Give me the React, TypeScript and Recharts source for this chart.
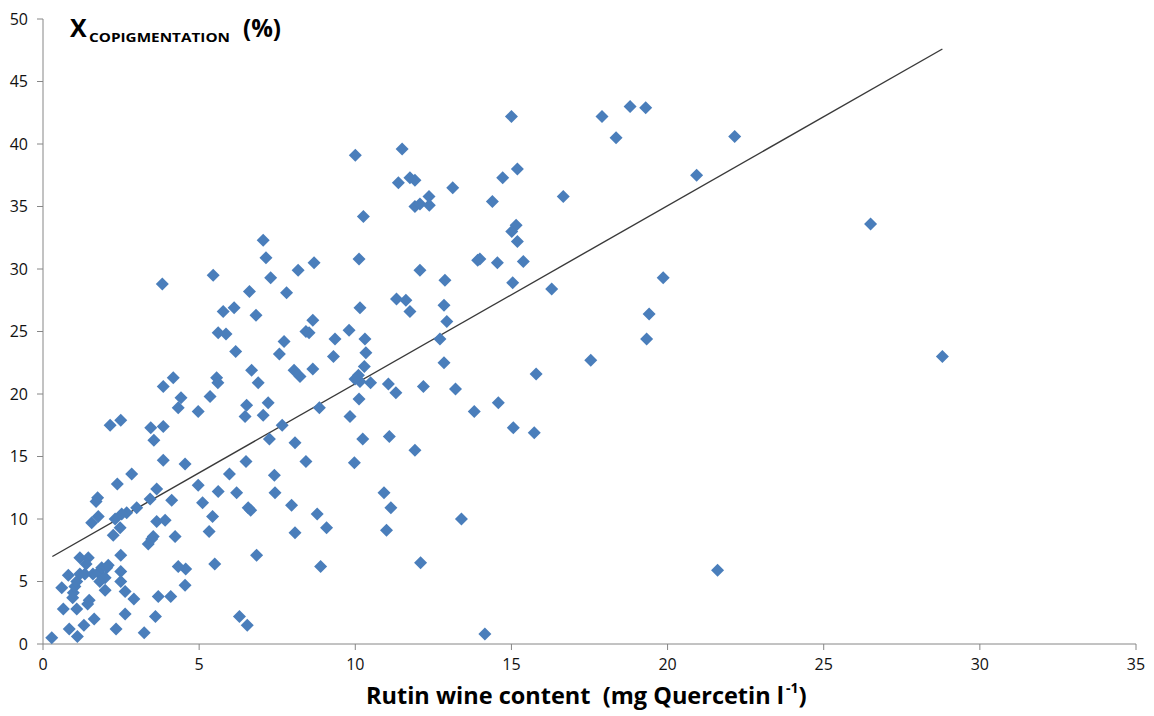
import { ReferenceLine, Scatter, ScatterChart, XAxis, YAxis } from "recharts";

// Rutin wine content (mg Quercetin l-1)
const rutin = [
	0.28, 1.1, 0.84, 1.31, 1.64, 0.65, 1.08, 1.43, 1.48, 0.95,
	0.97, 0.6, 1.02, 1.08, 0.81, 1.18, 1.34, 1.6, 1.77, 1.88,
	2.04, 2.09, 1.99, 1.99, 1.82, 1.45, 1.18, 1.38, 2.34, 2.63,
	2.91, 2.63, 2.49, 2.49, 2.49, 3.24, 3.6, 3.69, 4.09, 4.55,
	4.57, 4.33, 5.5, 6.29, 6.54, 6.84, 8.89, 3.37, 3.48, 3.53,
	4.23, 2.25, 2.47, 2.31, 2.68, 2.52, 3.0, 1.56, 1.77, 1.7,
	1.75, 2.38, 2.84, 3.43, 3.64, 3.85, 3.55, 3.45, 3.85, 2.15,
	2.49, 4.12, 3.64, 3.91, 4.55, 4.33, 4.97, 4.97, 5.11, 5.61,
	5.43, 5.32, 5.97, 6.2, 6.5, 6.57, 6.65, 6.52, 6.47, 7.05,
	7.25, 7.41, 7.43, 7.66, 8.07, 8.42, 7.96, 8.07, 8.78, 9.08,
	8.85, 7.21, 3.82, 5.45, 7.14, 7.29, 8.17, 8.68, 6.61, 7.8,
	5.77, 6.12, 6.82, 8.64, 5.61, 5.86, 8.42, 8.52, 7.72, 6.17,
	7.57, 6.68, 6.89, 8.04, 8.23, 8.64, 5.56, 5.6, 4.17, 3.85,
	4.42, 5.35, 7.05, 10.12, 12.07, 12.87, 13.92, 10.15, 11.32, 11.62,
	11.75, 12.84, 12.93, 9.8, 9.35, 10.31, 10.34, 9.3, 10.29, 10.1,
	10.15, 9.99, 10.49, 11.06, 11.3, 12.18, 13.21, 12.71, 12.84, 13.81,
	10.12, 9.83, 10.24, 11.09, 11.91, 9.97, 15.0, 17.9, 10.0, 11.5,
	11.38, 11.75, 11.91, 12.36, 11.91, 12.07, 12.37, 13.12, 14.72, 15.19,
	14.39, 16.66, 10.26, 15.15, 15.01, 15.19, 13.99, 14.55, 15.38, 15.04,
	16.29, 15.79, 17.54, 14.58, 15.06, 15.73, 10.92, 11.14, 11.0, 13.4,
	12.09, 14.15, 18.8, 19.3, 18.35, 22.15, 20.93, 19.86, 19.41, 19.33,
	26.5, 28.8, 21.6,
];

// X copigmentation (%)
const copigmentation = [
	0.5, 0.6, 1.2, 1.5, 2.0, 2.8, 2.8, 3.2, 3.5, 3.7,
	4.1, 4.5, 4.6, 5.0, 5.5, 5.6, 5.6, 5.6, 5.7, 6.1,
	6.1, 6.3, 5.3, 4.3, 5.0, 6.9, 6.9, 6.4, 1.2, 2.4,
	3.6, 4.2, 5.0, 5.8, 7.1, 0.9, 2.2, 3.8, 3.8, 4.7,
	6.0, 6.2, 6.4, 2.2, 1.5, 7.1, 6.2, 8.0, 8.4, 8.6,
	8.6, 8.7, 9.3, 10.0, 10.5, 10.4, 10.9, 9.7, 10.2, 11.4,
	11.7, 12.8, 13.6, 11.6, 12.4, 14.7, 16.3, 17.3, 17.4, 17.5,
	17.9, 11.5, 9.8, 9.9, 14.4, 18.9, 18.6, 12.7, 11.3, 12.2,
	10.2, 9.0, 13.6, 12.1, 14.6, 10.9, 10.7, 19.1, 18.2, 18.3,
	16.4, 13.5, 12.1, 17.5, 16.1, 14.6, 11.1, 8.9, 10.4, 9.3,
	18.9, 19.3, 28.8, 29.5, 30.9, 29.3, 29.9, 30.5, 28.2, 28.1,
	26.6, 26.9, 26.3, 25.9, 24.9, 24.8, 25.0, 24.9, 24.2, 23.4,
	23.2, 21.9, 20.9, 21.9, 21.4, 22.0, 21.3, 20.9, 21.3, 20.6,
	19.7, 19.8, 32.3, 30.8, 29.9, 29.1, 30.7, 26.9, 27.6, 27.5,
	26.6, 27.1, 25.8, 25.1, 24.4, 24.4, 23.3, 23.0, 22.2, 21.5,
	21.0, 21.2, 20.9, 20.8, 20.1, 20.6, 20.4, 24.4, 22.5, 18.6,
	19.6, 18.2, 16.4, 16.6, 15.5, 14.5, 42.2, 42.2, 39.1, 39.6,
	36.9, 37.3, 37.1, 35.8, 35.0, 35.2, 35.1, 36.5, 37.3, 38.0,
	35.4, 35.8, 34.2, 33.5, 33.0, 32.2, 30.8, 30.5, 30.6, 28.9,
	28.4, 21.6, 22.7, 19.3, 17.3, 16.9, 12.1, 10.9, 9.1, 10.0,
	6.5, 0.8, 43.0, 42.9, 40.5, 40.6, 37.5, 29.3, 26.4, 24.4,
	33.6, 23.0, 5.9,
];

// linear trend line end points
const trendX = [0.3, 28.8];
const trendY = [7.0, 47.6];

const xTicks = [0, 5, 10, 15, 20, 25, 30, 35];
const yTicks = [0, 5, 10, 15, 20, 25, 30, 35, 40, 45, 50];

const points = rutin.map((x, i) => ({ x, y: copigmentation[i] }));

const axisColor = "#868686";
const font = "'Open Sans', sans-serif";

const Diamond = (props: any) => {
	const { cx, cy } = props;
	const r = 6.5;
	return (
		<path
			d={`M${cx},${cy - r}L${cx + r},${cy}L${cx},${cy + r}L${cx - r},${cy}Z`}
			fill="#4a7ebb"
		/>
	);
};

export default function App() {
	return (
		<div
			style={{
				position: "absolute",
				left: 0,
				top: 0,
				width: 1154,
				height: 716,
				background: "#fff",
			}}
		>
			<ScatterChart
				width={1154}
				height={716}
				margin={{ top: 19, right: 18, bottom: 42, left: 13 }}
			>
				<XAxis
					dataKey="x"
					type="number"
					domain={[0, 35]}
					ticks={xTicks}
					height={30}
					stroke={axisColor}
					tickSize={6}
					tickMargin={9}
					tick={{ fill: "#111", fontSize: 16, fontFamily: font }}
				/>
				<YAxis
					dataKey="y"
					type="number"
					domain={[0, 50]}
					ticks={yTicks}
					width={30}
					stroke={axisColor}
					tickSize={6}
					tickMargin={9}
					tick={{ fill: "#111", fontSize: 16, fontFamily: font }}
				/>
				<Scatter
					data={points}
					shape={<Diamond />}
					isAnimationActive={false}
				/>
				<ReferenceLine
					segment={[
						{ x: trendX[0], y: trendY[0] },
						{ x: trendX[1], y: trendY[1] },
					]}
					stroke="#3a3a3a"
					strokeWidth={1.4}
					ifOverflow="visible"
				/>
			</ScatterChart>
			<svg
				width={1154}
				height={716}
				style={{ position: "absolute", left: 0, top: 0, pointerEvents: "none" }}
			>
				<g fontFamily={font} fontWeight="bold" fill="#000">
					<text x={70} y={37} fontSize={25}>
						X
					</text>
					<text x={89} y={42} fontSize={13} textLength={141} lengthAdjust="spacingAndGlyphs">
						COPIGMENTATION
					</text>
					<text x={243} y={37} fontSize={25} textLength={38} lengthAdjust="spacingAndGlyphs">
						(%)
					</text>
					<text x={366} y={704} fontSize={24} style={{ whiteSpace: "pre" }}>
						<tspan textLength={418} lengthAdjust="spacingAndGlyphs">
							Rutin wine content  (mg Quercetin l
						</tspan>
						<tspan fontSize={14} dx={2} dy={-11}>
							-1
						</tspan>
						<tspan dy={11}>)</tspan>
					</text>
				</g>
			</svg>
		</div>
	);
}
